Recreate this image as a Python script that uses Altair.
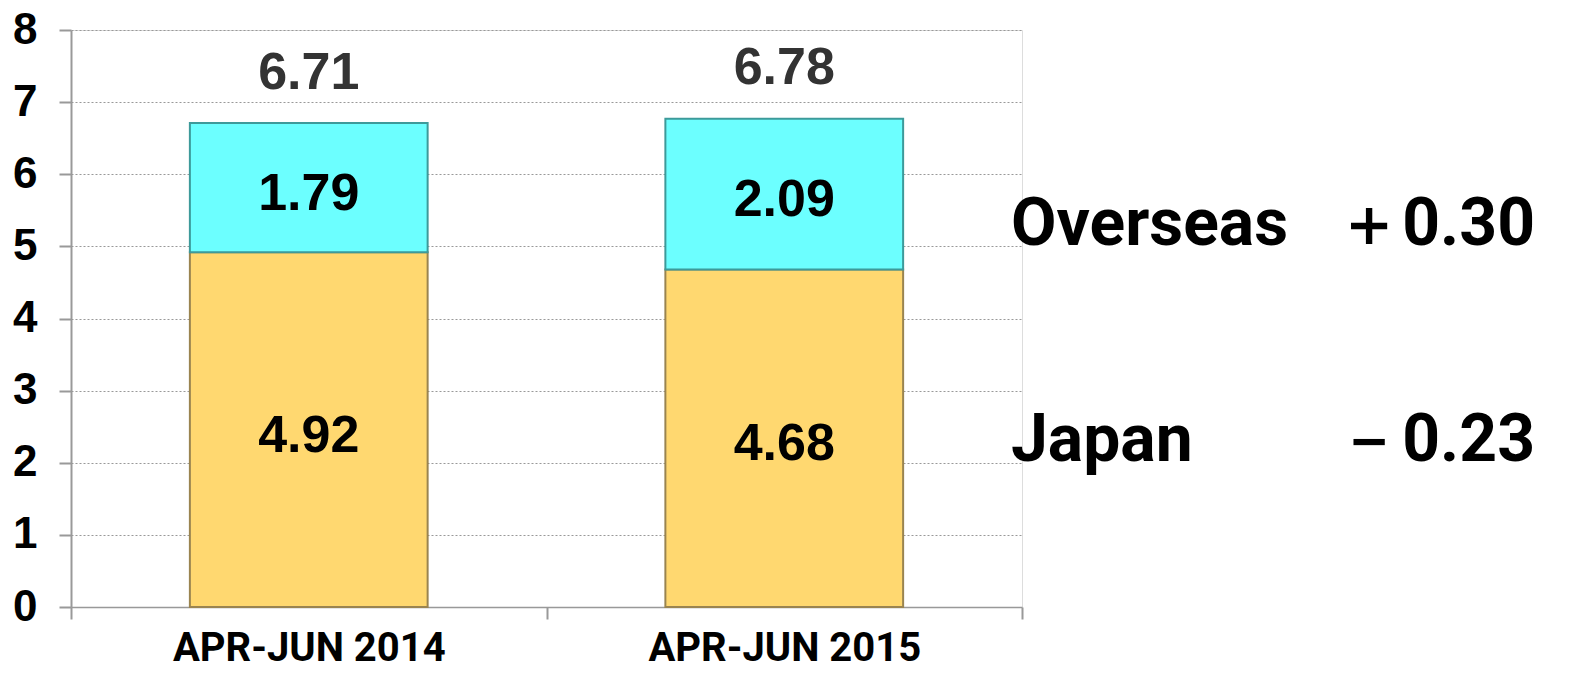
import altair as alt
import pandas as pd

categories = ["APR-JUN 2014", "APR-JUN 2015"]
japan = [4.92, 4.68]
overseas = [1.79, 2.09]
totals = [6.71, 6.78]
segment_names = ["Japan", "Overseas"]
diff_labels = ["－0.23", "＋0.30"]
diff_y = [2.3, 5.3]

rows = []
for i, c in enumerate(categories):
    rows.append({"cat": c, "seg": "Japan", "start": 0.0, "end": japan[i], "val": japan[i]})
    rows.append({"cat": c, "seg": "Overseas", "start": japan[i], "end": japan[i] + overseas[i], "val": overseas[i]})
seg_df = pd.DataFrame(rows)
seg_df["mid"] = (seg_df["start"] + seg_df["end"]) / 2
seg_df["txt"] = seg_df["val"].map(lambda v: f"{v:.2f}")

tot_df = pd.DataFrame({"cat": categories, "total": totals})
tot_df["txt"] = tot_df["total"].map(lambda v: f"{v:.2f}")

ann_df = pd.DataFrame({"name": segment_names, "diff": diff_labels, "y": diff_y})

xscale = alt.Scale(domain=categories, paddingInner=0, paddingOuter=0)
yscale = alt.Scale(domain=[0, 8])
narrow = "Roboto, sans-serif"
arial = "Liberation Sans, Arial, sans-serif"

base = alt.Chart(seg_df)

bars = base.mark_bar(strokeWidth=2, width=alt.RelativeBandSize(0.5)).encode(
    x=alt.X("cat:N", scale=xscale, sort=categories,
            axis=alt.Axis(title=None, labelAngle=0, labelFont=narrow, labelFontSize=40,
                          labelFontWeight="bold", labelColor="#000000", labelPadding=9,
                          labelLimit=0, ticks=True, tickBand="extent", tickSize=12,
                          tickColor="#999999", tickWidth=2, grid=False,
                          domainColor="#999999", domainWidth=1.5)),
    y=alt.Y("start:Q", scale=yscale,
            axis=alt.Axis(title=None, values=list(range(0, 9)), format="d", labelFont=arial,
                          labelFontSize=44, labelFontWeight="bold", labelColor="#000000",
                          labelPadding=22, tickSize=12, tickColor="#999999", tickWidth=2,
                          domainColor="#999999", domainWidth=2, gridColor="#999999",
                          gridDash=[2, 2], gridWidth=1)),
    y2="end:Q",
    color=alt.Color("seg:N", scale=alt.Scale(domain=segment_names, range=["#FFD870", "#6CFFFF"]), legend=None),
    stroke=alt.Stroke("seg:N", scale=alt.Scale(domain=segment_names, range=["#9a8450", "#3d9a9a"]), legend=None),
)

seg_text = base.mark_text(font=arial, fontSize=52, fontWeight="bold", color="#000000",
                          baseline="middle", dy=6).encode(
    x=alt.X("cat:N", scale=xscale, sort=categories),
    y=alt.Y("mid:Q", scale=yscale),
    text="txt:N",
)

tot_text = alt.Chart(tot_df).mark_text(font=arial, fontSize=52, fontWeight="bold", color="#333333",
                                       baseline="middle", dy=-50).encode(
    x=alt.X("cat:N", scale=xscale, sort=categories),
    y=alt.Y("total:Q", scale=yscale),
    text="txt:N",
)

ann_name = alt.Chart(ann_df).mark_text(font=narrow, fontSize=66, fontWeight="bold", color="#000000",
                                       align="left", baseline="middle").encode(
    x=alt.value(940),
    y=alt.Y("y:Q", scale=yscale),
    text="name:N",
)
ann_diff = alt.Chart(ann_df).mark_text(font=narrow, fontSize=66, fontWeight="bold", color="#000000",
                                       align="right", baseline="middle").encode(
    x=alt.value(1464),
    y=alt.Y("y:Q", scale=yscale),
    text="diff:N",
)

chart = alt.layer(bars, seg_text, tot_text, ann_name, ann_diff).properties(
    width=951, height=577, autosize="none",
    padding={"left": 63, "top": 22, "right": 541, "bottom": 66},
).configure_view(stroke=None).configure(background="#ffffff")

chart.save("out.html", embed_options={"renderer": "svg", "actions": False})
